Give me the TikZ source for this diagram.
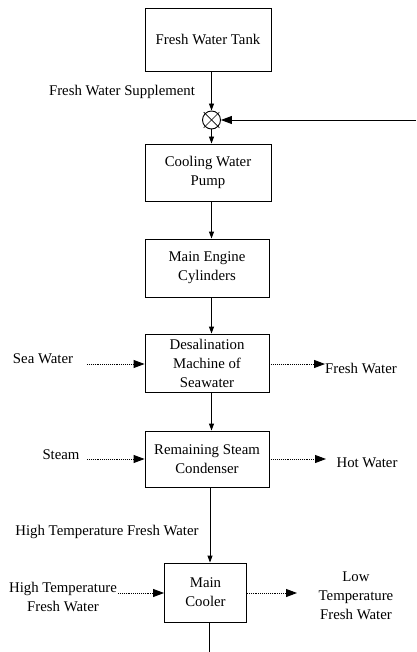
\documentclass[tikz,border=0pt]{standalone}
\usepackage{fontspec}
\setmainfont{Liberation Serif}
\usetikzlibrary{arrows.meta,calc}
\tikzset{
  blk/.style={draw, line width=0.9pt, inner sep=0pt, align=center, font=\fontsize{14.8}{19}\selectfont},
  lbl/.style={inner sep=0pt, align=center, font=\fontsize{14.8}{19}\selectfont},
  flow/.style={line width=0.9pt, -{Triangle[length=7pt,width=5pt]}},
  bigflow/.style={line width=0.9pt, -{Triangle[length=11pt,width=8pt]}},
  dflow/.style={line width=0.9pt, densely dotted, -{Triangle[length=11pt,width=8pt]}},
}
\begin{document}
\begin{tikzpicture}[x=1pt,y=-1pt]
\useasboundingbox (0,0) rectangle (416,652);
% boxes
\node[blk, minimum width=126pt, minimum height=63pt] (tank) at (208,39.5) {Fresh Water Tank};
\node[blk, minimum width=126pt, minimum height=57pt] (pump) at (208,172.5) {Cooling Water\\Pump};
\node[blk, minimum width=124pt, minimum height=58pt] (engine) at (207,268) {Main Engine\\Cylinders};
\node[blk, minimum width=124pt, minimum height=58pt] (desal) at (207,363) {Desalination\\Machine of\\Seawater};
\node[blk, minimum width=124pt, minimum height=56pt] (cond) at (207,459) {Remaining Steam\\Condenser};
\node[blk, minimum width=82pt, minimum height=59pt] (cooler) at (205.5,592.5) {Main\\Cooler};
% mixing junction
\node[draw, circle, line width=0.9pt, minimum size=18pt, inner sep=0pt] (mix) at (211.5,120) {};
\draw[line width=0.7pt] ($(mix.center)+(-7.8,-7.8)$) -- ($(mix.center)+(7.8,7.8)$);
\draw[line width=0.7pt] ($(mix.center)+(-7.8,7.8)$) -- ($(mix.center)+(7.8,-7.8)$);
\coordinate (rin) at (416,120);
\coordinate (bot) at (209,652);
% labels
\node[lbl] (supp) at (122,92) {Fresh Water Supplement};
\node[lbl] (sea) at (43,359) {Sea Water};
\node[lbl] (fresh) at (361,368) {Fresh Water};
\node[lbl] (steam) at (61,455) {Steam};
\node[lbl] (hot) at (367,463) {Hot Water};
\node[lbl] (htfw) at (107,532) {High Temperature Fresh Water};
\node[lbl] (htin) at (63,596.5) {High Temperature\\Fresh Water};
\node[lbl] (ltout) at (356,596) {Low\\Temperature\\Fresh Water};
% connectors
\draw[flow] (mix |- tank.south) -- (mix.north);
\draw[bigflow] (rin) -- (mix.east);
\draw[flow] (mix.south) -- (mix |- pump.north);
\draw[flow] (mix |- pump.south) -- (mix |- engine.north);
\draw[flow] (mix |- engine.south) -- (mix |- desal.north);
\draw[flow] (mix |- desal.south) -- (mix |- cond.north);
\draw[flow] (210,0 |- cond.south) -- (210,0 |- cooler.north);
\draw[line width=0.9pt] (bot |- cooler.south) -- (bot);
\draw[dflow] (87,364) -- (desal.west |- 0,364);
\draw[dflow] (desal.east |- 0,364) -- (fresh.west |- 0,364);
\draw[dflow] (87,459) -- (cond.west |- 0,459);
\draw[dflow] (cond.east |- 0,459) -- (326,459);
\draw[dflow] (118,593) -- (cooler.west |- 0,593);
\draw[dflow] (cooler.east |- 0,593) -- (297,593);
\end{tikzpicture}
\end{document}
